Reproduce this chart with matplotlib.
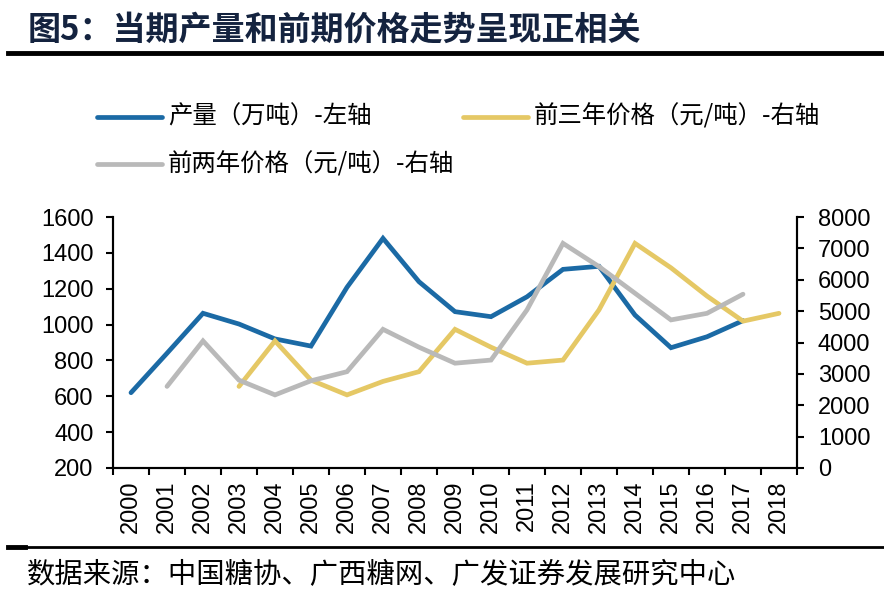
import numpy as np
import matplotlib
matplotlib.use("Agg")
import matplotlib.pyplot as plt
from matplotlib.lines import Line2D

num_font = ['Liberation Sans Narrow', 'Liberation Sans', 'DejaVu Sans']
cjk_font = ['Noto Sans CJK SC', 'DejaVu Sans']
plt.rcParams['font.family'] = num_font

# Data
years = [str(y) for y in range(2000, 2019)]
output_years = years[0:18]          # 2000-2017
output = [620, 840, 1063, 1003, 920, 880, 1208, 1481, 1239, 1072,
          1044, 1155, 1308, 1325, 1053, 871, 932, 1022]
price3_years = years[3:19]          # 2003-2018
price3 = [2600, 4050, 2800, 2330, 2760, 3070, 4420, 3850, 3340, 3440,
          5040, 7160, 6380, 5480, 4680, 4930]
price2_years = years[1:18]          # 2001-2017
price2 = [2600, 4050, 2800, 2330, 2780, 3070, 4420, 3850, 3340, 3440,
          5040, 7160, 6420, 5570, 4720, 4930, 5540]

c_blue = '#1b6aa5'
c_yellow = '#e5c865'
c_gray = '#b9b9b9'
navy = '#14233f'
W, H = 884, 604

fig = plt.figure(figsize=(8.84, 6.04), dpi=100)
ax = fig.add_axes([113 / W, 1 - 468 / H, 684 / W, 251 / H])
ax2 = ax.twinx()

idx = {y: i for i, y in enumerate(years)}
ax.plot([idx[y] for y in output_years], output, color=c_blue, lw=3.4,
        solid_capstyle='round', solid_joinstyle='miter')
ax2.plot([idx[y] for y in price3_years], price3, color=c_yellow, lw=3.4,
         solid_capstyle='round', solid_joinstyle='miter')
ax2.plot([idx[y] for y in price2_years], price2, color=c_gray, lw=3.4,
         solid_capstyle='round', solid_joinstyle='miter')

ax.set_xlim(-0.5, len(years) - 0.5)
ax.set_ylim(200, 1600)
ax.set_yticks(np.arange(200, 1601, 200))
ax2.set_ylim(0, 8000)
ax2.set_yticks(np.arange(0, 8001, 1000))

ax.set_xticks(np.arange(-0.5, len(years), 1.0))
ax.set_xticklabels([])
ax.set_xticks(np.arange(len(years)), minor=True)
ax.set_xticklabels(years, minor=True, rotation=90, fontsize=17)
ax.tick_params(axis='x', which='minor', length=0, pad=9)
ax.tick_params(axis='x', which='major', length=5, width=1.5, direction='out')
ax.tick_params(axis='y', length=5, width=1.5, labelsize=17, pad=9)
ax2.tick_params(axis='y', length=5, width=1.5, labelsize=17, pad=10)

for a in (ax, ax2):
    a.spines['top'].set_visible(False)
    for s in ('left', 'right', 'bottom'):
        a.spines[s].set_linewidth(1.5)
        a.spines[s].set_color('black')

# Legend, drawn by hand to match the two-row layout
legend_items = [
    (c_blue, '产量（万吨）-左轴', 97, 117),
    (c_yellow, '前三年价格（元/吨）-右轴', 463, 117),
    (c_gray, '前两年价格（元/吨）-右轴', 97, 164),
]
for col, txt, x0, y0 in legend_items:
    fig.add_artist(Line2D([x0 / W, (x0 + 65) / W], [1 - y0 / H, 1 - y0 / H],
                          color=col, lw=3.4, solid_capstyle='round',
                          transform=fig.transFigure))
    fig.text((x0 + 71) / W, 1 - y0 / H, txt, fontsize=17.6, va='center',
             ha='left', family=cjk_font)

# Title and rules
fig.text(28 / W, 1 - 30 / H, '图5：当期产量和前期价格走势呈现正相关',
         fontsize=23.8, fontweight='bold', color=navy, va='center',
         family=cjk_font)
fig.add_artist(Line2D([8 / W, 1.0], [1 - 53 / H, 1 - 53 / H], color='black',
                      lw=3.5, transform=fig.transFigure))
fig.add_artist(Line2D([8 / W, 1.0], [1 - 547 / H, 1 - 547 / H], color='black',
                      lw=2.0, transform=fig.transFigure))
fig.add_artist(Line2D([8 / W, 25 / W], [1 - 547 / H, 1 - 547 / H],
                      color='black', lw=3.5, transform=fig.transFigure))
fig.text(27 / W, 1 - 575 / H, '数据来源：中国糖协、广西糖网、广发证券发展研究中心',
         fontsize=20.4, color='black', va='center', family=cjk_font)

fig.savefig('out.png', dpi=100)
